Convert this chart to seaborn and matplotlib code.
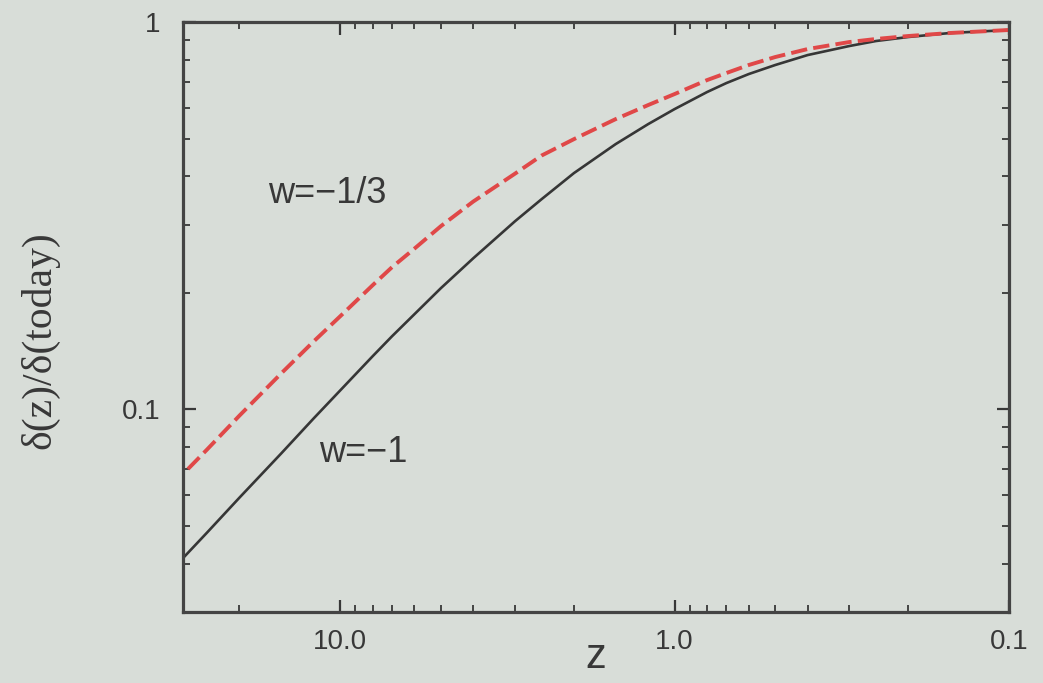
import numpy as np
import pandas as pd
import matplotlib
matplotlib.use("Agg")
import matplotlib.pyplot as plt
from matplotlib.ticker import FixedLocator, FixedFormatter, LogLocator, NullFormatter
import seaborn as sns

# ---- data ----
z_values = [30, 25, 20, 15, 12, 10, 8, 7, 6, 5, 4, 3, 2.5, 2, 1.5, 1.2, 1,
            0.8, 0.7, 0.6, 0.5, 0.4, 0.3, 0.25, 0.2, 0.15, 0.1]
growth_w_minus1 = [0.0407, 0.0481, 0.0592, 0.0770, 0.0948, 0.1119, 0.1371, 0.1544,
                   0.1760, 0.2055, 0.2455, 0.3060, 0.3487, 0.4073, 0.4840, 0.5449,
                   0.5959, 0.6593, 0.6956, 0.7339, 0.7744, 0.8216, 0.8670, 0.8930,
                   0.9147, 0.9367, 0.9535]
growth_w_minus13 = [0.0671, 0.0788, 0.0964, 0.1239, 0.1498, 0.1739, 0.2091, 0.2328,
                    0.2599, 0.2971, 0.3440, 0.4060, 0.4520, 0.4984, 0.5615, 0.6103,
                    0.6516, 0.7079, 0.7384, 0.7744, 0.8120, 0.8515, 0.8878, 0.9039,
                    0.9201, 0.9367, 0.9535]
x_ticks = [10.0, 1.0, 0.1]
x_tick_labels = ["10.0", "1.0", "0.1"]
y_ticks = [0.1, 1.0]
y_tick_labels = ["0.1", "1"]
label_w13 = "w=\u22121/3"
label_w1 = "w=\u22121"

bg = "#d8ddd8"
ink = "#383838"

sns.set_theme(style="ticks")
plt.rcParams["font.family"] = ["Liberation Sans", "DejaVu Sans"]

fig = plt.figure(figsize=(10.43, 6.83), dpi=100, facecolor=bg)
ax = fig.add_axes([0.1755, 0.104, 0.7919, 0.8638])
ax.set_facecolor(bg)

df1 = pd.DataFrame({"z": z_values, "d": growth_w_minus1})
df2 = pd.DataFrame({"z": z_values, "d": growth_w_minus13})

sns.lineplot(data=df1, x="z", y="d", ax=ax, color="#363636", lw=1.9)
sns.lineplot(data=df2, x="z", y="d", ax=ax, color="#e04848", lw=2.8,
             linestyle=(0, (4.2, 1.6)))

ax.set_xscale("log")
ax.set_yscale("log")
ax.set_xlim(29.5, 0.1)
ax.set_ylim(0.03, 1.0)

ax.xaxis.set_major_locator(FixedLocator(x_ticks))
ax.xaxis.set_major_formatter(FixedFormatter(x_tick_labels))
ax.xaxis.set_minor_locator(LogLocator(base=10, subs=np.arange(2, 10)))
ax.xaxis.set_minor_formatter(NullFormatter())
ax.yaxis.set_major_locator(FixedLocator(y_ticks))
ax.yaxis.set_major_formatter(FixedFormatter(y_tick_labels))
ax.yaxis.set_minor_locator(LogLocator(base=10, subs=np.arange(2, 10)))
ax.yaxis.set_minor_formatter(NullFormatter())

ax.tick_params(which="both", direction="in", top=True, right=True,
               colors=ink, labelcolor=ink)
ax.tick_params(which="major", length=9, width=1.6, labelsize=20)
ax.tick_params(axis="y", which="major", pad=16)
ax.tick_params(axis="x", which="major", pad=12)
ax.tick_params(which="minor", length=5, width=1.3)
for s in ax.spines.values():
    s.set_color("#444444")
    s.set_linewidth(2.3)

ax.set_xlabel("z", fontsize=30, color=ink, labelpad=0)
ax.set_ylabel("\u03b4(z)/\u03b4(today)", fontsize=30, color=ink,
              family=["Liberation Serif", "DejaVu Serif"])
ax.yaxis.set_label_coords(-0.15, 0.46)
ax.xaxis.set_label_coords(0.5, -0.042)

ax.text(0.103, 0.71, label_w13, transform=ax.transAxes, fontsize=26, color=ink,
        va="center", ha="left")
ax.text(0.165, 0.27, label_w1, transform=ax.transAxes, fontsize=26, color=ink,
        va="center", ha="left")

fig.savefig("out.png", dpi=100, facecolor=bg)
